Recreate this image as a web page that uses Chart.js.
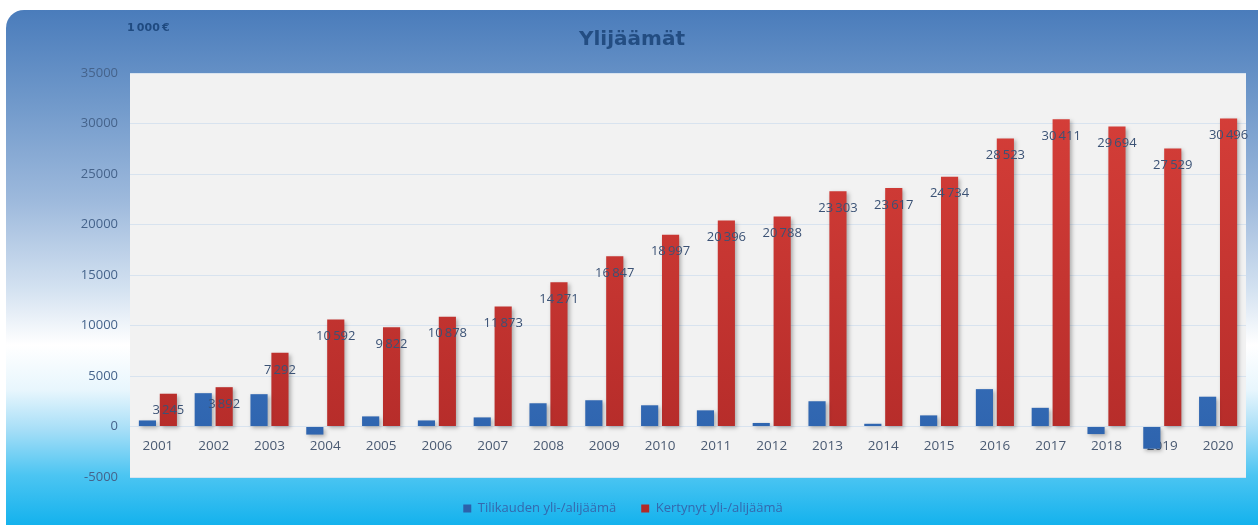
<!DOCTYPE html>
<html>
<head>
<meta charset="utf-8">
<script src="https://cdn.jsdelivr.net/npm/chart.js@4/dist/chart.umd.min.js"></script>
<style>
  html, body { margin: 0; padding: 0; background: #fff; overflow: hidden; }
  #bg {
    position: absolute; left: 6px; top: 10px; width: 1275px; height: 540px;
    border-radius: 18px;
    background: linear-gradient(to bottom,
      #4a7cbb 0px, #6f98ca 90px, #9db9dc 190px, #d4e2f1 280px,
      #ffffff 335px, #e8f6fd 380px, #a6def7 420px, #4cc5f2 465px, #14b2ed 515px);
  }
  #wrap { position: absolute; left: 0; top: 0; width: 1258px; height: 525px; }
</style>
</head>
<body>
<div id="bg"></div>
<div id="wrap"><canvas id="chart" width="1258" height="525"></canvas></div>
<script>
// data (1 000 €)
const years = ["2001", "2002", "2003", "2004", "2005", "2006", "2007", "2008", "2009", "2010",
               "2011", "2012", "2013", "2014", "2015", "2016", "2017", "2018", "2019", "2020"];
const annual = [600, 3300, 3200, -800, 1000, 600, 900, 2300, 2600, 2100,
                1600, 350, 2500, 270, 1100, 3700, 1850, -750, -2200, 2950];
const cumulative = [3245, 3892, 7292, 10592, 9822, 10878, 11873, 14271, 16847, 18997,
                    20396, 20788, 23303, 23617, 24734, 28523, 30411, 29694, 27529, 30496];
const seriesNames = ["Tilikauden yli-/alijäämä", "Kertynyt yli-/alijäämä"];
const yMin = -5000, yMax = 35000, yStep = 5000;

function fmt(n) {
    return String(n).replace(/\B(?=(\d{3})+(?!\d))/g, "\u2009");
}

function vGrad(ctx, top, bottom) {
    const chart = ctx.chart;
    const area = chart.chartArea;
    if (!area) return bottom;
    const g = chart.ctx.createLinearGradient(0, area.top, 0, area.bottom);
    g.addColorStop(0, top);
    g.addColorStop(1, bottom);
    return g;
}

// plot background, titles, bar shadows and value labels
const backdrop = {
    id: "backdrop",
    beforeDraw(chart) {
        const { ctx, chartArea: a } = chart;
        ctx.save();
        ctx.fillStyle = "#f2f2f2";
        ctx.fillRect(a.left, a.top, a.right - a.left, a.bottom - a.top);
        ctx.textBaseline = "middle";
        ctx.fillStyle = "#1f4a80";
        ctx.font = "bold 11px 'DejaVu Sans'";
        ctx.fillText("1\u2009000\u2009€", 127, 28);
        ctx.fillStyle = "#234d82";
        ctx.font = "bold 20px 'DejaVu Sans'";
        ctx.textAlign = "center";
        ctx.fillText("Ylijäämät", 632, 40);
        ctx.restore();
    },
    beforeDatasetsDraw(chart) {
        const ctx = chart.ctx;
        ctx.save();
        ctx.shadowColor = "rgba(0,0,0,0.28)";
        ctx.shadowBlur = 4;
        ctx.shadowOffsetX = 2;
        ctx.shadowOffsetY = 2;
    },
    afterDatasetsDraw(chart) {
        chart.ctx.restore();
        const ctx = chart.ctx;
        const meta = chart.getDatasetMeta(1);
        ctx.save();
        ctx.fillStyle = "#3b5275";
        ctx.font = "13px 'Open Sans'";
        ctx.textAlign = "center";
        ctx.textBaseline = "middle";
        meta.data.forEach((bar, i) => {
            ctx.fillText(fmt(cumulative[i]), bar.x, bar.y + 17);
        });
        ctx.restore();
    }
};

new Chart(document.getElementById("chart"), {
    type: "bar",
    data: {
        labels: years,
        datasets: [{
            label: seriesNames[0],
            data: annual,
            backgroundColor: c => vGrad(c, "#4a86d2", "#2c61ab"),
            categoryPercentage: 0.75,
            barPercentage: 0.82
        }, {
            label: seriesNames[1],
            data: cumulative,
            backgroundColor: c => vGrad(c, "#d8403a", "#b22a28"),
            categoryPercentage: 0.75,
            barPercentage: 0.82
        }]
    },
    options: {
        responsive: false,
        animation: false,
        layout: { padding: { top: 73, right: 12, left: 0, bottom: 0 } },
        plugins: {
            title: { display: false },
            legend: {
                position: "bottom",
                labels: {
                    boxWidth: 8,
                    boxHeight: 8,
                    color: "#3568ad",
                    font: { family: "'Open Sans'", size: 13 },
                    padding: 25
                }
            },
            tooltip: { enabled: false }
        },
        scales: {
            x: {
                position: { y: 0 },
                grid: { display: false },
                border: { display: false },
                ticks: {
                    color: "#4a5a72",
                    font: { family: "'Open Sans'", size: 13.5 },
                    padding: 4,
                    maxRotation: 0
                }
            },
            y: {
                min: yMin,
                max: yMax,
                afterFit(scale) { scale.width = 130; },
                grid: { color: "#d8e3ef", drawTicks: false },
                border: { display: false },
                ticks: {
                    stepSize: yStep,
                    padding: 12,
                    color: "#45638b",
                    font: { family: "'Open Sans'", size: 13 },
                    callback: v => String(v)
                }
            }
        }
    },
    plugins: [backdrop]
});
</script>
</body>
</html>
